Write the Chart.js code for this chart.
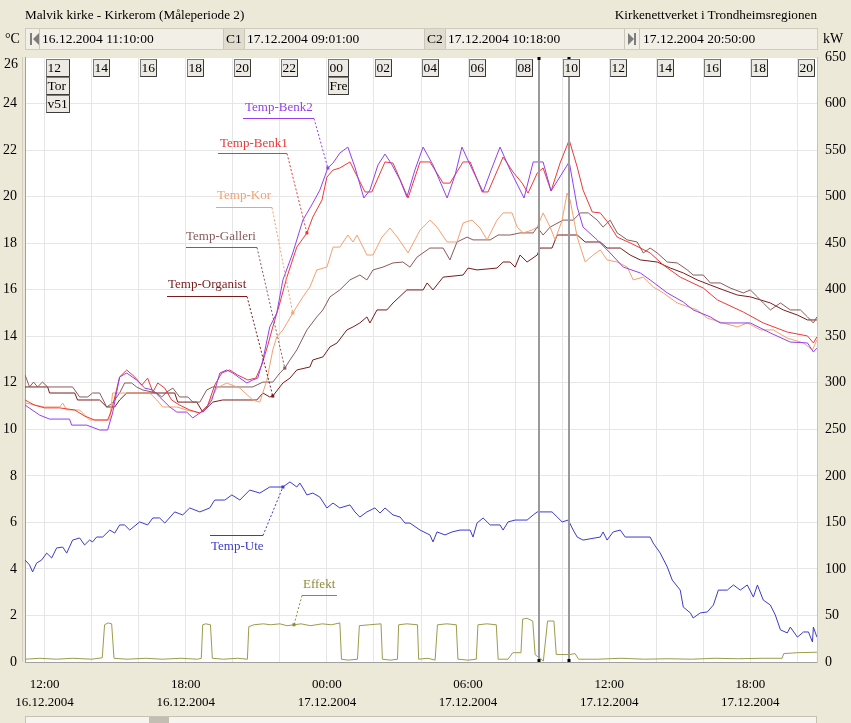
<!DOCTYPE html>
<html>
<head>
<meta charset="utf-8">
<title>Malvik kirke - Kirkerom</title>
<script src="https://cdn.jsdelivr.net/npm/chart.js@4.4.1/dist/chart.umd.min.js"></script>
<style>
  html, body { margin: 0; padding: 0; background: #ece9d8; }
  #wrap { position: relative; width: 851px; height: 723px; overflow: hidden;
          font-family: "Liberation Serif", "Times New Roman", serif; font-size: 13px; color: #000; }
  #chart { position: absolute; left: 0; top: 0; }
  .txt { position: absolute; white-space: nowrap; line-height: 16px; }
  .big { font-size: 14px; }
  #toolbar { position: absolute; left: 25px; top: 28px; width: 793px; height: 22px;
             box-sizing: border-box; border: 1px solid #cfcbbd; background: #f1efe6; }
  .seg { position: absolute; top: 0; height: 20px; line-height: 20px; white-space: nowrap; font-size: 13.5px; }
  .tag { background: #e0ddd0; border-left: 1px solid #cbc7b8; border-right: 1px solid #cbc7b8; padding: 0 2px; }
  .sep { position: absolute; top: 0; width: 1px; height: 20px; background: #cbc7b8; }
  .bar { position: absolute; top: 4px; width: 2px; height: 12px; background: #7d7d7d; }
  .tri { position: absolute; top: 4px; width: 0; height: 0;
         border-top: 6px solid transparent; border-bottom: 6px solid transparent; }
</style>
</head>
<body>
<div id="wrap">
  <canvas id="chart" width="851" height="723"></canvas>
  <div class="txt" style="left:25px; top:7px; font-size:13.2px;">Malvik kirke - Kirkerom (Måleperiode 2)</div>
  <div class="txt" style="right:34px; top:7px; font-size:13.2px;">Kirkenettverket i Trondheimsregionen</div>
  <div class="txt big" style="left:5px; top:31px;">°C</div>
  <div class="txt big" style="left:823px; top:31px;">kW</div>
  <div id="toolbar">
    <div class="bar" style="left:4px"></div>
    <div class="tri" style="left:7px; border-right:6px solid #7d7d7d;"></div>
    <div class="sep" style="left:13px"></div>
    <div class="seg" style="left:16px">16.12.2004 11:10:00</div>
    <div class="seg tag" style="left:197px">C1</div>
    <div class="seg" style="left:221px">17.12.2004 09:01:00</div>
    <div class="seg tag" style="left:398px">C2</div>
    <div class="seg" style="left:422px">17.12.2004 10:18:00</div>
    <div class="sep" style="left:598px"></div>
    <div class="tri" style="left:602px; border-left:6px solid #7d7d7d;"></div>
    <div class="bar" style="left:608px"></div>
    <div class="sep" style="left:613px"></div>
    <div class="seg" style="left:617px">17.12.2004 20:50:00</div>
  </div>
</div>
<script>
const FONT = '"Liberation Serif", "Times New Roman", serif';

// time is counted in hours from 16.12.2004 00:00
const tStart = 11 + 10 / 60;   // 16.12.2004 11:10
const tEnd = 44 + 50 / 60;     // 17.12.2004 20:50
const gridHours = [12, 14, 16, 18, 20, 22, 24, 26, 28, 30, 32, 34, 36, 38, 40, 42, 44];
const dayLabels = [[12, 'Tor', 'v51'], [24, 'Fre']];
const cursorHours = [33 + 1 / 60, 34 + 18 / 60];   // C1, C2

// [hour, °C]
const tempBenk2 = [[11.17,11.04],[11.79,10.61],[12.21,10.44],[13.06,10.44],[13.15,10.18],[13.79,10.18],[14.34,9.97],[14.68,9.97],[14.89,10.70],[15.19,12.25],[15.49,12.42],[15.91,12.12],[16.26,11.77],[16.60,11.69],[16.89,11.39],[17.32,10.96],[17.62,10.74],[18.04,10.74],[18.30,10.49],[18.60,10.70],[18.81,10.83],[19.11,11.26],[19.45,12.42],[19.74,12.55],[20.00,12.42],[20.30,12.20],[20.60,11.99],[20.85,12.12],[21.06,12.20],[21.28,12.98],[21.57,14.40],[21.87,15.00],[22.13,16.42],[22.55,17.58],[22.98,18.99],[23.40,19.72],[23.70,20.28],[24.04,21.23],[24.26,21.44],[24.55,21.87],[24.89,22.13],[25.19,21.27],[25.57,19.94],[25.83,20.28],[26.17,21.36],[26.47,21.83],[26.77,21.36],[27.11,20.71],[27.40,19.98],[27.74,21.14],[28.09,22.13],[28.51,21.36],[29.11,19.94],[29.45,20.93],[29.74,22.13],[30.09,21.36],[30.64,20.20],[30.98,21.14],[31.36,22.13],[31.79,21.14],[32.38,19.94],[32.77,21.49],[33.19,21.49],[33.53,20.24],[34.30,21.49],[34.64,19.55],[34.89,18.69],[35.49,18.14],[36.04,17.58],[36.60,16.97],[37.32,16.72],[37.74,16.42],[38.47,15.86],[39.15,15.47],[39.57,15.13],[40.30,14.83],[40.72,14.57],[42.00,14.57],[42.85,14.14],[43.70,13.75],[44.43,13.71],[44.68,13.32],[44.83,13.49]];
const tempBenk1 = [[11.17,11.26],[11.57,11.04],[12.00,10.92],[12.64,10.92],[13.28,10.83],[13.70,10.57],[14.13,10.40],[14.68,10.40],[14.85,10.83],[15.19,12.25],[15.49,12.55],[15.83,12.25],[16.13,11.90],[16.38,12.20],[16.60,11.60],[16.81,11.99],[17.11,11.77],[17.40,11.26],[17.74,11.04],[18.17,10.83],[18.60,10.70],[18.94,11.04],[19.23,11.90],[19.53,12.42],[19.87,12.55],[20.21,12.33],[20.64,12.12],[20.98,12.20],[21.23,12.76],[21.49,13.62],[21.70,14.40],[22.00,15.43],[22.30,16.54],[22.72,17.83],[23.15,18.44],[23.40,19.12],[23.79,19.85],[24.00,20.84],[24.26,21.14],[24.55,21.23],[24.98,21.49],[25.62,20.20],[25.91,20.20],[26.47,21.49],[26.81,21.44],[27.45,19.94],[27.96,21.49],[28.38,21.49],[28.94,20.58],[29.23,20.58],[29.79,21.49],[30.09,21.49],[30.60,20.20],[30.85,20.20],[31.49,21.70],[31.91,21.06],[32.30,20.58],[32.55,20.15],[32.94,21.01],[33.19,21.23],[33.53,20.24],[33.91,21.44],[34.30,22.43],[34.64,21.27],[34.89,20.28],[35.28,19.34],[35.62,19.30],[35.96,18.87],[36.34,18.26],[36.89,18.01],[37.74,17.58],[38.30,17.06],[39.02,16.54],[40.00,16.07],[40.60,15.56],[41.70,15.04],[42.55,14.57],[43.57,14.18],[44.43,14.01],[44.68,13.71],[44.83,13.97]];
const tempKor = [[11.17,11.13],[12.00,10.96],[12.64,10.96],[12.77,11.13],[12.94,10.83],[13.49,10.83],[13.91,10.40],[14.77,10.40],[14.89,11.56],[16.47,11.56],[16.77,11.26],[17.02,10.96],[17.62,10.96],[18.04,10.83],[18.60,10.70],[18.89,10.96],[19.32,11.77],[19.74,11.99],[20.30,11.77],[20.85,11.26],[21.15,11.17],[21.45,12.12],[21.70,13.41],[21.87,13.97],[22.13,14.27],[22.55,15.00],[22.98,15.69],[23.28,16.12],[23.57,16.85],[24.00,16.97],[24.26,17.83],[24.55,17.83],[24.89,18.35],[25.11,18.05],[25.28,18.35],[25.70,17.49],[25.96,17.49],[26.34,18.26],[26.68,18.65],[27.02,18.22],[27.45,17.58],[27.96,18.56],[28.38,18.99],[28.68,18.69],[29.11,18.05],[29.53,18.05],[29.79,18.87],[30.17,18.99],[30.51,18.65],[30.81,18.14],[31.23,18.99],[31.49,19.30],[31.87,19.30],[32.09,18.69],[32.34,18.44],[32.72,18.56],[32.94,18.69],[33.19,19.30],[33.49,18.69],[33.70,18.14],[34.00,18.99],[34.21,20.15],[34.34,19.85],[34.64,18.26],[34.98,17.19],[35.32,17.49],[35.62,17.71],[35.91,17.28],[36.34,17.19],[36.77,16.97],[37.02,16.42],[37.45,16.54],[37.87,16.12],[38.30,15.86],[38.89,15.43],[39.74,15.13],[40.17,14.78],[40.85,14.57],[41.45,14.40],[41.87,14.57],[42.43,14.27],[42.98,14.27],[43.57,13.92],[44.26,13.71],[44.64,13.41],[44.83,13.84]];
const tempGalleri = [[11.17,12.33],[11.36,11.82],[11.53,12.03],[11.70,11.82],[11.91,12.03],[12.13,11.82],[13.19,11.82],[13.49,11.39],[13.83,11.39],[14.04,11.56],[14.34,11.56],[14.64,10.96],[14.89,11.13],[15.19,11.56],[15.40,11.99],[15.70,11.99],[15.91,11.82],[16.17,11.69],[16.77,11.56],[16.98,11.39],[17.19,11.60],[17.45,11.77],[17.74,11.39],[18.09,11.39],[18.30,11.17],[18.60,11.17],[18.89,11.69],[19.15,11.82],[20.85,11.82],[21.28,12.03],[21.70,12.03],[22.00,12.42],[22.21,12.63],[22.43,12.98],[22.72,13.41],[23.15,14.27],[23.57,14.83],[23.83,15.13],[24.13,15.69],[24.55,15.99],[24.98,16.42],[25.40,16.63],[25.70,16.42],[25.96,16.85],[26.38,16.97],[26.81,17.15],[27.23,17.19],[27.53,16.97],[27.83,17.40],[28.38,17.79],[28.94,17.79],[29.23,17.28],[29.53,18.05],[29.96,18.26],[30.21,18.14],[30.94,18.14],[31.28,18.35],[31.79,18.35],[32.21,18.44],[32.77,18.44],[32.94,18.69],[33.19,18.35],[33.49,18.69],[34.04,18.99],[34.47,18.99],[34.77,19.30],[35.11,19.30],[35.49,18.99],[35.74,18.69],[36.04,18.99],[36.34,18.44],[36.77,18.14],[37.19,18.05],[37.45,17.58],[37.74,17.79],[38.04,17.58],[38.47,17.19],[38.89,17.15],[39.32,16.85],[39.57,16.63],[40.00,16.63],[40.30,16.29],[40.72,16.29],[41.15,16.07],[41.70,15.86],[42.00,15.99],[42.30,15.69],[42.55,15.43],[42.85,15.13],[43.28,15.43],[43.70,15.13],[44.13,15.13],[44.43,14.83],[44.68,14.57],[44.83,14.83]];
const tempOrganist = [[11.17,11.82],[12.13,11.82],[12.21,11.56],[13.28,11.56],[13.40,11.26],[14.34,11.26],[14.64,10.96],[14.98,10.96],[15.19,11.26],[15.49,11.56],[17.53,11.56],[17.66,11.17],[18.47,11.17],[18.72,10.74],[19.02,11.04],[19.15,11.17],[19.57,11.26],[21.02,11.26],[21.28,11.56],[21.57,11.39],[21.70,11.43],[22.00,11.82],[22.13,11.99],[22.43,12.20],[22.72,12.55],[23.28,12.68],[23.40,12.98],[23.83,13.11],[24.13,13.54],[24.43,13.71],[24.85,14.27],[25.11,14.40],[25.40,14.57],[25.70,14.83],[25.83,14.57],[26.13,15.13],[26.55,15.13],[26.81,15.43],[27.40,15.99],[28.09,15.99],[28.26,16.29],[28.51,15.99],[28.94,16.54],[29.79,16.63],[30.00,16.93],[30.38,16.85],[31.23,16.93],[31.49,17.19],[31.79,17.19],[32.00,16.97],[32.21,17.49],[32.51,17.19],[32.94,17.49],[33.06,17.79],[33.57,17.79],[33.79,18.35],[34.64,18.35],[34.98,18.05],[35.62,18.05],[35.91,17.79],[36.47,17.79],[36.89,17.49],[37.32,17.28],[38.04,17.19],[38.60,16.93],[39.15,16.72],[39.74,16.42],[40.30,16.20],[40.85,15.99],[41.45,15.77],[42.00,15.69],[42.43,15.56],[42.85,15.43],[43.40,15.13],[44.00,14.91],[44.43,14.70],[44.83,14.70]];
const tempUte = [[11.17,4.38],[11.36,4.17],[11.49,3.87],[11.66,4.25],[11.87,4.38],[12.09,4.68],[12.30,4.47],[12.51,4.90],[12.77,4.94],[12.94,4.68],[13.19,5.24],[13.49,5.33],[13.70,5.03],[13.91,5.24],[14.04,5.16],[14.21,5.37],[14.47,5.37],[14.77,5.67],[14.98,5.54],[15.19,5.89],[15.40,5.89],[15.62,5.67],[16.04,6.02],[16.38,5.89],[16.60,6.19],[16.89,6.19],[17.11,5.97],[17.53,6.45],[17.87,6.32],[18.17,6.62],[18.60,6.45],[19.02,6.62],[19.23,6.96],[19.66,6.96],[19.96,7.18],[20.30,6.96],[20.72,7.39],[21.15,7.26],[21.57,7.52],[22.13,7.52],[22.43,7.74],[22.72,7.52],[22.85,7.69],[22.98,7.48],[23.15,7.18],[23.40,7.26],[23.70,7.09],[24.00,6.62],[24.26,6.83],[24.55,6.62],[24.98,6.75],[25.19,6.45],[25.40,6.23],[25.70,6.45],[26.04,6.62],[26.26,6.40],[26.47,6.62],[26.81,6.32],[27.11,6.23],[27.32,5.97],[27.53,5.97],[27.96,5.67],[28.38,5.46],[28.51,5.16],[28.68,5.59],[29.02,5.46],[29.32,5.59],[29.66,5.67],[30.09,5.67],[30.21,5.37],[30.38,5.97],[30.64,6.19],[30.94,5.89],[31.36,5.89],[31.49,5.67],[31.70,6.02],[32.00,6.10],[32.51,6.10],[32.77,6.32],[32.94,6.45],[33.57,6.45],[33.79,6.23],[34.00,6.02],[34.26,6.10],[34.47,5.67],[34.64,5.37],[34.89,5.24],[35.62,5.37],[35.74,5.59],[35.91,5.24],[36.17,5.59],[36.47,5.67],[36.68,5.37],[37.74,5.37],[37.87,5.11],[38.17,4.68],[38.47,4.08],[38.68,3.52],[39.02,3.09],[39.15,2.36],[39.45,2.11],[39.57,1.89],[39.87,2.11],[40.17,2.15],[40.43,2.45],[40.64,3.09],[41.02,3.09],[41.28,3.31],[41.57,3.09],[41.87,3.31],[42.13,2.79],[42.30,3.31],[42.55,2.66],[42.85,2.45],[43.06,2.02],[43.28,1.38],[43.57,1.25],[43.70,1.50],[44.00,1.07],[44.26,1.29],[44.47,1.29],[44.64,0.86],[44.68,1.50],[44.83,1.07]];
// [hour, kW]
const effekt = [[11.17,3],[11.8,4],[12.5,3],[13.2,4],[14.0,3],[14.45,4.5],[14.55,40],[14.7,42],[14.85,41],[14.95,4],[15.5,3],[16.3,4],[17.0,3],[17.8,4],[18.5,3],[18.66,4],[18.72,40],[18.85,41],[19.05,40],[19.13,4],[19.6,3],[20.2,4],[20.62,3],[20.68,38],[20.9,40],[21.3,41],[21.6,40],[22.0,41],[22.3,39],[22.6,40],[22.9,41],[23.3,39],[23.8,41],[24.2,40],[24.55,42],[24.62,3],[24.9,2],[25.3,3],[25.38,39],[25.8,40],[26.3,41],[26.36,3],[26.7,2],[27.0,3],[27.05,40],[27.4,41],[27.85,40],[27.9,3],[28.3,4],[28.6,2],[28.7,40],[29.1,41],[29.5,40],[29.57,3],[30.0,2],[30.35,3],[30.42,40],[30.8,41],[31.2,40],[31.28,3],[31.7,3],[31.9,10],[32.25,10],[32.32,46],[32.5,47],[32.75,44],[32.85,8],[33.0,5],[33.2,1],[33.38,44],[33.65,44],[33.75,8],[34.3,8],[34.55,9],[34.7,3],[35.5,3],[36.5,4],[37.5,3],[38.5,3.5],[39.5,3],[40.5,4],[41.5,3.5],[42.5,4],[43.35,4],[43.42,9],[44.0,10],[44.83,10.5]];

const colors = {
  benk2: '#9440ee', benk1: '#ee3838', kor: '#f4a070', galleri: '#8a5a5a',
  organist: '#7a1c1c', ute: '#3b3bd0', effekt: '#9c9c4c'
};

// series name tags with a leader line to a point on the curve
const notes = [
  { text: 'Temp-Benk2', color: colors.benk2, x: 245, y: 108, lineY: 118, x0: 243, x1: 314, end: 'right', at: [24.04, 21.23], axis: 'y' },
  { text: 'Temp-Benk1', color: colors.benk1, x: 220, y: 144, lineY: 153, x0: 218, x1: 287, end: 'right', at: [23.15, 18.44], axis: 'y' },
  { text: 'Temp-Kor', color: colors.kor, x: 217, y: 196, lineY: 207, x0: 216, x1: 272, end: 'right', at: [22.55, 15.00], axis: 'y' },
  { text: 'Temp-Galleri', color: colors.galleri, x: 186, y: 237, lineY: 247, x0: 186, x1: 257, end: 'right', at: [22.21, 12.63], axis: 'y' },
  { text: 'Temp-Organist', color: colors.organist, x: 168, y: 285, lineY: 296, x0: 167, x1: 247, end: 'right', at: [21.70, 11.43], axis: 'y' },
  { text: 'Temp-Ute', color: colors.ute, x: 211, y: 547, lineY: 535, x0: 210, x1: 263, end: 'right', at: [22.13, 7.52], axis: 'y' },
  { text: 'Effekt', color: '#8c8c38', x: 303, y: 585, lineY: 595, x0: 302, x1: 337, end: 'left', at: [22.6, 40], axis: 'y2' }
];

const pad = n => (n < 10 ? '0' : '') + n;

function line(label, data, color, axis) {
  return {
    label: label,
    data: data.map(p => ({ x: p[0], y: p[1] })),
    borderColor: color,
    borderWidth: 1,
    pointRadius: 0,
    tension: 0,
    fill: false,
    yAxisID: axis || 'y'
  };
}

function box(ctx, x, y, w, h) {
  ctx.fillStyle = '#eceae3';
  ctx.fillRect(x, y, w, h);
  ctx.strokeStyle = '#7a7a7a';
  ctx.lineWidth = 1;
  ctx.strokeRect(x + 0.5, y + 0.5, w - 1, h - 1);
  ctx.strokeStyle = '#3a3a3a';
  ctx.beginPath();
  ctx.moveTo(x + w - 0.5, y + 0.5);
  ctx.lineTo(x + w - 0.5, y + h - 0.5);
  ctx.lineTo(x + 0.5, y + h - 0.5);
  ctx.stroke();
}

const decor = {
  id: 'decor',
  beforeDraw(chart) {
    const { ctx, chartArea: a } = chart;
    ctx.save();
    ctx.fillStyle = '#ece9d8';
    ctx.fillRect(0, 0, chart.width, chart.height);
    ctx.fillStyle = '#ffffff';
    ctx.fillRect(a.left, a.top, a.right - a.left, a.bottom - a.top);
    ctx.strokeStyle = '#d3cfc0';
    ctx.beginPath();
    ctx.moveTo(22.5, a.top);
    ctx.lineTo(22.5, a.bottom);
    ctx.stroke();
    ctx.restore();
  },
  afterDatasetsDraw(chart) {
    const { ctx, chartArea: a, scales } = chart;
    const xs = scales.x;
    ctx.save();

    // cursor lines C1 / C2
    cursorHours.forEach(h => {
      const x = Math.round(xs.getPixelForValue(h));
      ctx.strokeStyle = '#9a9a9a';
      ctx.lineWidth = 2;
      ctx.beginPath();
      ctx.moveTo(x, a.top);
      ctx.lineTo(x, a.bottom);
      ctx.stroke();
      ctx.fillStyle = '#000';
      ctx.fillRect(x - 1.5, a.top, 3, 3);
      ctx.fillRect(x - 1.5, a.bottom - 3, 3, 3);
    });

    // hour boxes along the top
    ctx.font = '13.5px ' + FONT;
    ctx.textBaseline = 'middle';
    gridHours.forEach(h => {
      const x = Math.round(xs.getPixelForValue(h)) + 1;
      const rows = [pad(h % 24)];
      const d = dayLabels.find(r => r[0] === h);
      if (d) rows.push(...d.slice(1));
      const w = Math.ceil(Math.max(...rows.map(s => ctx.measureText(s).width))) + 3;
      rows.forEach((s, i) => {
        const y = a.top + 2 + i * 18;
        box(ctx, x, y, w, 18);
        ctx.fillStyle = '#000';
        ctx.fillText(s, x + 1.5, y + 9.5);
      });
    });

    // name tags with leader lines
    ctx.font = '13px ' + FONT;
    notes.forEach(n => {
      const px = xs.getPixelForValue(n.at[0]);
      const py = scales[n.axis].getPixelForValue(n.at[1]);
      ctx.fillStyle = n.color;
      ctx.fillText(n.text, n.x, n.y);
      ctx.strokeStyle = n.color;
      ctx.lineWidth = 1;
      ctx.setLineDash([]);
      ctx.beginPath();
      ctx.moveTo(n.x0, n.lineY + 0.5);
      ctx.lineTo(n.x1, n.lineY + 0.5);
      ctx.stroke();
      ctx.setLineDash([2, 2]);
      ctx.beginPath();
      ctx.moveTo(n.end === 'right' ? n.x1 : n.x0, n.lineY + 0.5);
      ctx.lineTo(px, py);
      ctx.stroke();
      ctx.setLineDash([]);
      ctx.fillRect(px - 1.5, py - 1.5, 3, 3);
    });

    // top label of the left axis sits a little lower than its grid line
    ctx.font = '14px ' + FONT;
    ctx.fillStyle = '#000';
    ctx.textAlign = 'right';
    ctx.fillText('26', 18, a.top + 7);
    ctx.textAlign = 'left';

    // scroll bar
    ctx.fillStyle = '#f5f4ee';
    ctx.fillRect(a.left, 716, a.right - a.left, 7);
    ctx.strokeStyle = '#c6c2b3';
    ctx.strokeRect(a.left + 0.5, 716.5, a.right - a.left - 1, 7);
    ctx.fillStyle = '#c2bfb2';
    ctx.fillRect(149, 717, 20, 6);
    ctx.restore();
  }
};

new Chart(document.getElementById('chart'), {
  type: 'line',
  data: {
    datasets: [
      line('Effekt', effekt, colors.effekt, 'y2'),
      line('Temp-Ute', tempUte, colors.ute),
      line('Temp-Benk2', tempBenk2, colors.benk2),
      line('Temp-Benk1', tempBenk1, colors.benk1),
      line('Temp-Kor', tempKor, colors.kor),
      line('Temp-Galleri', tempGalleri, colors.galleri),
      line('Temp-Organist', tempOrganist, colors.organist)
    ]
  },
  options: {
    responsive: false,
    animation: false,
    devicePixelRatio: 1,
    layout: { padding: { top: 57, left: 0, right: 0, bottom: 0 } },
    plugins: { legend: { display: false }, tooltip: { enabled: false } },
    scales: {
      x: {
        type: 'linear',
        min: tStart,
        max: tEnd,
        afterBuildTicks: s => { s.ticks = gridHours.map(v => ({ value: v })); },
        afterFit: s => { s.height = 61; },
        grid: { color: '#e6e6e6', drawTicks: false },
        border: { color: '#a0a0a0' },
        ticks: {
          autoSkip: false, maxRotation: 0, padding: 14, color: '#000',
          font: { family: FONT, size: 13, lineHeight: 1.38 },
          callback: v => v % 6 === 0
            ? [pad(v % 24) + ':00', (v < 24 ? '16' : '17') + '.12.2004']
            : ''
        }
      },
      y: {
        position: 'left',
        min: 0, max: 26,
        afterFit: s => { s.width = 25; },
        grid: { color: '#e6e6e6', drawTicks: false },
        border: { color: '#a0a0a0' },
        ticks: {
          stepSize: 2, padding: 8, color: '#000',
          font: { family: FONT, size: 14 },
          callback: v => v === 26 ? '' : v
        }
      },
      y2: {
        position: 'right',
        min: 0, max: 650,
        afterFit: s => { s.width = 34; },
        grid: { drawOnChartArea: false, drawTicks: false },
        border: { color: '#c4c4c4' },
        ticks: {
          stepSize: 50, padding: 8, color: '#000',
          font: { family: FONT, size: 14 }
        }
      }
    }
  },
  plugins: [decor]
});
</script>
</body>
</html>
